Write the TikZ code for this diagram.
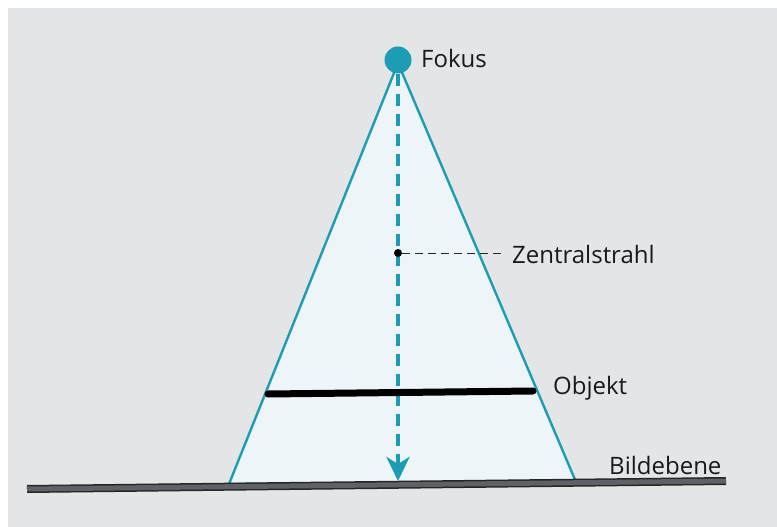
\documentclass[tikz,border=0pt]{standalone}
\usepackage{fontspec}
\setmainfont{Open Sans}
\usetikzlibrary{arrows.meta}
\definecolor{teal1}{HTML}{1C9DB3}
\definecolor{panel}{HTML}{E3E5E7}
\definecolor{conefill}{HTML}{EEF5F8}
\definecolor{plate}{HTML}{5E6166}
\tikzset{
  lbl/.style={anchor=west, inner sep=0pt, font=\fontsize{24}{26}\selectfont, text=black!90},
  cone/.style={draw=teal1, line width=2.4pt, fill=conefill, line join=round},
  ray/.style={draw=teal1, line width=4pt, dash pattern=on 12pt off 8pt, -{Stealth[length=24pt,width=23pt,inset=7pt]}},
  guide/.style={draw=black!85, line width=0.9pt, dash pattern=on 8pt off 5pt},
}
\begin{document}
\begin{tikzpicture}[x=1pt,y=-1pt]
\useasboundingbox (0,0) rectangle (777,527);
\fill[white] (0,0) rectangle (777,527);
\fill[panel] (8,8) rectangle (777,527);
% cone
\coordinate (apex) at (398,63);
\coordinate (bl) at (229,484);
\coordinate (br) at (576,482);
\path[cone] (apex) -- (bl) -- (br) -- cycle;
% image plane
\coordinate (pl) at (27,489);
\coordinate (pr) at (726,481);
\draw[line width=8pt, black!85] (pl) -- (pr);
\draw[line width=5pt, plate] (pl) -- (pr);
% central ray
\node[circle, fill=teal1, minimum size=27pt, inner sep=0pt] (fokus) at (398,60) {};
\coordinate (tip) at (398,481);
\draw[ray] (fokus.south) -- (tip);
% object
\coordinate (ol) at (268,394);
\coordinate (or) at (533,391);
\draw[line width=7pt, line cap=round, black] (ol) -- (or);
% central point
\node[circle, fill=black, minimum size=8pt, inner sep=0pt] (zp) at (398,253) {};
\coordinate (ze) at (502,253);
\draw[guide] (zp) -- (ze);
% labels
\node[lbl] (lfokus) at (421,58) {Fokus};
\node[lbl] (lzentral) at (512,254) {Zentralstrahl};
\node[lbl] (lobjekt) at (553,388) {Objekt};
\node[lbl] (lbild) at (609,465) {Bildebene};
\end{tikzpicture}
\end{document}
